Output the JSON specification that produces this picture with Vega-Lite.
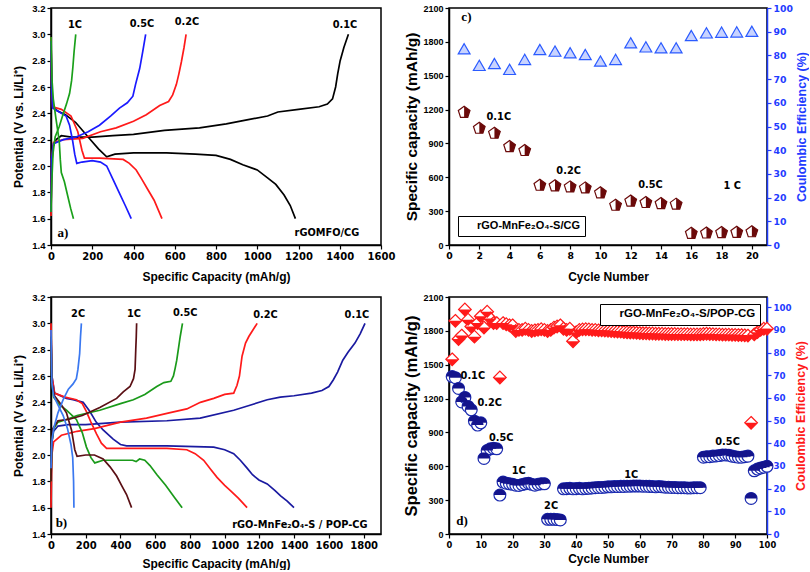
{
"$schema":"https://vega.github.io/schema/vega-lite/v6.json",
"background":"white",
"padding":{"left":12,"top":2,"right":0,"bottom":0},
"bounds":"flush",
"columns":2,
"spacing":{"row":52,"column":68},
"resolve":{"scale":{"color":"independent","shape":"independent"},"legend":{"shape":"independent","color":"independent"}},
"datasets":{
"a":[
{"r":"0.1C","s":"d","x":0,"y":2.98},{"r":"0.1C","s":"d","x":3,"y":2.6},{"r":"0.1C","s":"d","x":8,"y":2.45},{"r":"0.1C","s":"d","x":30,"y":2.42},{"r":"0.1C","s":"d","x":70,"y":2.39},{"r":"0.1C","s":"d","x":120,"y":2.33},{"r":"0.1C","s":"d","x":180,"y":2.22},{"r":"0.1C","s":"d","x":230,"y":2.13},{"r":"0.1C","s":"d","x":270,"y":2.07},{"r":"0.1C","s":"d","x":310,"y":2.09},{"r":"0.1C","s":"d","x":400,"y":2.1},{"r":"0.1C","s":"d","x":560,"y":2.1},{"r":"0.1C","s":"d","x":700,"y":2.09},{"r":"0.1C","s":"d","x":800,"y":2.08},{"r":"0.1C","s":"d","x":870,"y":2.05},{"r":"0.1C","s":"d","x":930,"y":2.01},{"r":"0.1C","s":"d","x":1000,"y":1.97},{"r":"0.1C","s":"d","x":1050,"y":1.91},{"r":"0.1C","s":"d","x":1090,"y":1.86},{"r":"0.1C","s":"d","x":1130,"y":1.78},{"r":"0.1C","s":"d","x":1160,"y":1.7},{"r":"0.1C","s":"d","x":1185,"y":1.6},
{"r":"0.1C","s":"c","x":0,"y":1.62},{"r":"0.1C","s":"c","x":3,"y":2.0},{"r":"0.1C","s":"c","x":10,"y":2.15},{"r":"0.1C","s":"c","x":25,"y":2.2},{"r":"0.1C","s":"c","x":50,"y":2.23},{"r":"0.1C","s":"c","x":100,"y":2.22},{"r":"0.1C","s":"c","x":200,"y":2.22},{"r":"0.1C","s":"c","x":300,"y":2.23},{"r":"0.1C","s":"c","x":400,"y":2.24},{"r":"0.1C","s":"c","x":550,"y":2.27},{"r":"0.1C","s":"c","x":720,"y":2.29},{"r":"0.1C","s":"c","x":850,"y":2.32},{"r":"0.1C","s":"c","x":950,"y":2.35},{"r":"0.1C","s":"c","x":1050,"y":2.38},{"r":"0.1C","s":"c","x":1100,"y":2.41},{"r":"0.1C","s":"c","x":1200,"y":2.43},{"r":"0.1C","s":"c","x":1300,"y":2.45},{"r":"0.1C","s":"c","x":1340,"y":2.47},{"r":"0.1C","s":"c","x":1365,"y":2.51},{"r":"0.1C","s":"c","x":1380,"y":2.6},{"r":"0.1C","s":"c","x":1390,"y":2.7},{"r":"0.1C","s":"c","x":1402,"y":2.8},{"r":"0.1C","s":"c","x":1420,"y":2.9},{"r":"0.1C","s":"c","x":1442,"y":3.0},
{"r":"0.2C","s":"d","x":0,"y":2.98},{"r":"0.2C","s":"d","x":3,"y":2.6},{"r":"0.2C","s":"d","x":8,"y":2.45},{"r":"0.2C","s":"d","x":50,"y":2.43},{"r":"0.2C","s":"d","x":97,"y":2.38},{"r":"0.2C","s":"d","x":130,"y":2.26},{"r":"0.2C","s":"d","x":150,"y":2.12},{"r":"0.2C","s":"d","x":162,"y":2.06},{"r":"0.2C","s":"d","x":235,"y":2.06},{"r":"0.2C","s":"d","x":350,"y":2.05},{"r":"0.2C","s":"d","x":380,"y":2.02},{"r":"0.2C","s":"d","x":413,"y":1.97},{"r":"0.2C","s":"d","x":440,"y":1.9},{"r":"0.2C","s":"d","x":470,"y":1.82},{"r":"0.2C","s":"d","x":500,"y":1.74},{"r":"0.2C","s":"d","x":538,"y":1.6},
{"r":"0.2C","s":"c","x":0,"y":1.62},{"r":"0.2C","s":"c","x":3,"y":2.05},{"r":"0.2C","s":"c","x":12,"y":2.18},{"r":"0.2C","s":"c","x":60,"y":2.2},{"r":"0.2C","s":"c","x":154,"y":2.21},{"r":"0.2C","s":"c","x":240,"y":2.26},{"r":"0.2C","s":"c","x":316,"y":2.29},{"r":"0.2C","s":"c","x":400,"y":2.34},{"r":"0.2C","s":"c","x":462,"y":2.39},{"r":"0.2C","s":"c","x":527,"y":2.46},{"r":"0.2C","s":"c","x":570,"y":2.49},{"r":"0.2C","s":"c","x":590,"y":2.54},{"r":"0.2C","s":"c","x":608,"y":2.62},{"r":"0.2C","s":"c","x":620,"y":2.7},{"r":"0.2C","s":"c","x":632,"y":2.79},{"r":"0.2C","s":"c","x":645,"y":2.9},{"r":"0.2C","s":"c","x":655,"y":3.0},
{"r":"0.5C","s":"d","x":0,"y":2.95},{"r":"0.5C","s":"d","x":3,"y":2.6},{"r":"0.5C","s":"d","x":8,"y":2.44},{"r":"0.5C","s":"d","x":40,"y":2.41},{"r":"0.5C","s":"d","x":73,"y":2.38},{"r":"0.5C","s":"d","x":90,"y":2.31},{"r":"0.5C","s":"d","x":105,"y":2.19},{"r":"0.5C","s":"d","x":115,"y":2.09},{"r":"0.5C","s":"d","x":125,"y":2.02},{"r":"0.5C","s":"d","x":150,"y":2.03},{"r":"0.5C","s":"d","x":200,"y":2.04},{"r":"0.5C","s":"d","x":240,"y":2.03},{"r":"0.5C","s":"d","x":270,"y":2.0},{"r":"0.5C","s":"d","x":300,"y":1.9},{"r":"0.5C","s":"d","x":330,"y":1.8},{"r":"0.5C","s":"d","x":360,"y":1.7},{"r":"0.5C","s":"d","x":389,"y":1.6},
{"r":"0.5C","s":"c","x":0,"y":1.65},{"r":"0.5C","s":"c","x":3,"y":2.05},{"r":"0.5C","s":"c","x":12,"y":2.17},{"r":"0.5C","s":"c","x":60,"y":2.2},{"r":"0.5C","s":"c","x":122,"y":2.22},{"r":"0.5C","s":"c","x":180,"y":2.26},{"r":"0.5C","s":"c","x":235,"y":2.31},{"r":"0.5C","s":"c","x":290,"y":2.38},{"r":"0.5C","s":"c","x":332,"y":2.44},{"r":"0.5C","s":"c","x":370,"y":2.48},{"r":"0.5C","s":"c","x":397,"y":2.53},{"r":"0.5C","s":"c","x":410,"y":2.62},{"r":"0.5C","s":"c","x":430,"y":2.74},{"r":"0.5C","s":"c","x":445,"y":2.87},{"r":"0.5C","s":"c","x":459,"y":3.0},
{"r":"1C","s":"d","x":0,"y":2.98},{"r":"1C","s":"d","x":5,"y":2.65},{"r":"1C","s":"d","x":11,"y":2.51},{"r":"1C","s":"d","x":24,"y":2.36},{"r":"1C","s":"d","x":40,"y":2.19},{"r":"1C","s":"d","x":45,"y":2.05},{"r":"1C","s":"d","x":50,"y":1.95},{"r":"1C","s":"d","x":65,"y":1.88},{"r":"1C","s":"d","x":80,"y":1.78},{"r":"1C","s":"d","x":95,"y":1.68},{"r":"1C","s":"d","x":109,"y":1.6},
{"r":"1C","s":"c","x":0,"y":1.65},{"r":"1C","s":"c","x":3,"y":1.85},{"r":"1C","s":"c","x":10,"y":2.1},{"r":"1C","s":"c","x":20,"y":2.22},{"r":"1C","s":"c","x":40,"y":2.3},{"r":"1C","s":"c","x":60,"y":2.4},{"r":"1C","s":"c","x":75,"y":2.47},{"r":"1C","s":"c","x":90,"y":2.55},{"r":"1C","s":"c","x":100,"y":2.65},{"r":"1C","s":"c","x":106,"y":2.75},{"r":"1C","s":"c","x":112,"y":2.87},{"r":"1C","s":"c","x":120,"y":3.0}
],
"b":[
{"r":"0.1C","s":"d","x":0,"y":2.95},{"r":"0.1C","s":"d","x":5,"y":2.6},{"r":"0.1C","s":"d","x":21,"y":2.47},{"r":"0.1C","s":"d","x":89,"y":2.43},{"r":"0.1C","s":"d","x":127,"y":2.42},{"r":"0.1C","s":"d","x":185,"y":2.4},{"r":"0.1C","s":"d","x":224,"y":2.33},{"r":"0.1C","s":"d","x":260,"y":2.25},{"r":"0.1C","s":"d","x":300,"y":2.19},{"r":"0.1C","s":"d","x":358,"y":2.12},{"r":"0.1C","s":"d","x":400,"y":2.08},{"r":"0.1C","s":"d","x":435,"y":2.07},{"r":"0.1C","s":"d","x":667,"y":2.07},{"r":"0.1C","s":"d","x":937,"y":2.06},{"r":"0.1C","s":"d","x":1000,"y":2.04},{"r":"0.1C","s":"d","x":1052,"y":2.01},{"r":"0.1C","s":"d","x":1090,"y":1.96},{"r":"0.1C","s":"d","x":1129,"y":1.9},{"r":"0.1C","s":"d","x":1160,"y":1.85},{"r":"0.1C","s":"d","x":1197,"y":1.81},{"r":"0.1C","s":"d","x":1245,"y":1.78},{"r":"0.1C","s":"d","x":1290,"y":1.73},{"r":"0.1C","s":"d","x":1322,"y":1.69},{"r":"0.1C","s":"d","x":1360,"y":1.65},{"r":"0.1C","s":"d","x":1399,"y":1.6},
{"r":"0.1C","s":"c","x":0,"y":1.9},{"r":"0.1C","s":"c","x":5,"y":2.1},{"r":"0.1C","s":"c","x":15,"y":2.18},{"r":"0.1C","s":"c","x":40,"y":2.22},{"r":"0.1C","s":"c","x":100,"y":2.23},{"r":"0.1C","s":"c","x":200,"y":2.23},{"r":"0.1C","s":"c","x":400,"y":2.25},{"r":"0.1C","s":"c","x":667,"y":2.26},{"r":"0.1C","s":"c","x":859,"y":2.28},{"r":"0.1C","s":"c","x":1052,"y":2.34},{"r":"0.1C","s":"c","x":1150,"y":2.38},{"r":"0.1C","s":"c","x":1245,"y":2.42},{"r":"0.1C","s":"c","x":1320,"y":2.44},{"r":"0.1C","s":"c","x":1399,"y":2.45},{"r":"0.1C","s":"c","x":1500,"y":2.47},{"r":"0.1C","s":"c","x":1560,"y":2.49},{"r":"0.1C","s":"c","x":1600,"y":2.52},{"r":"0.1C","s":"c","x":1625,"y":2.57},{"r":"0.1C","s":"c","x":1650,"y":2.63},{"r":"0.1C","s":"c","x":1680,"y":2.72},{"r":"0.1C","s":"c","x":1710,"y":2.78},{"r":"0.1C","s":"c","x":1750,"y":2.85},{"r":"0.1C","s":"c","x":1780,"y":2.92},{"r":"0.1C","s":"c","x":1808,"y":3.0},
{"r":"0.2C","s":"d","x":0,"y":3.0},{"r":"0.2C","s":"d","x":5,"y":2.6},{"r":"0.2C","s":"d","x":20,"y":2.47},{"r":"0.2C","s":"d","x":80,"y":2.44},{"r":"0.2C","s":"d","x":146,"y":2.42},{"r":"0.2C","s":"d","x":180,"y":2.39},{"r":"0.2C","s":"d","x":204,"y":2.33},{"r":"0.2C","s":"d","x":230,"y":2.25},{"r":"0.2C","s":"d","x":262,"y":2.16},{"r":"0.2C","s":"d","x":290,"y":2.09},{"r":"0.2C","s":"d","x":320,"y":2.05},{"r":"0.2C","s":"d","x":500,"y":2.05},{"r":"0.2C","s":"d","x":667,"y":2.05},{"r":"0.2C","s":"d","x":782,"y":2.04},{"r":"0.2C","s":"d","x":830,"y":2.01},{"r":"0.2C","s":"d","x":879,"y":1.96},{"r":"0.2C","s":"d","x":920,"y":1.89},{"r":"0.2C","s":"d","x":956,"y":1.83},{"r":"0.2C","s":"d","x":1000,"y":1.77},{"r":"0.2C","s":"d","x":1033,"y":1.73},{"r":"0.2C","s":"d","x":1080,"y":1.67},{"r":"0.2C","s":"d","x":1129,"y":1.6},
{"r":"0.2C","s":"c","x":0,"y":1.6},{"r":"0.2C","s":"c","x":5,"y":2.0},{"r":"0.2C","s":"c","x":15,"y":2.1},{"r":"0.2C","s":"c","x":60,"y":2.15},{"r":"0.2C","s":"c","x":150,"y":2.18},{"r":"0.2C","s":"c","x":250,"y":2.2},{"r":"0.2C","s":"c","x":400,"y":2.25},{"r":"0.2C","s":"c","x":550,"y":2.28},{"r":"0.2C","s":"c","x":680,"y":2.32},{"r":"0.2C","s":"c","x":782,"y":2.35},{"r":"0.2C","s":"c","x":860,"y":2.4},{"r":"0.2C","s":"c","x":937,"y":2.43},{"r":"0.2C","s":"c","x":1000,"y":2.46},{"r":"0.2C","s":"c","x":1052,"y":2.47},{"r":"0.2C","s":"c","x":1071,"y":2.53},{"r":"0.2C","s":"c","x":1085,"y":2.6},{"r":"0.2C","s":"c","x":1100,"y":2.75},{"r":"0.2C","s":"c","x":1120,"y":2.85},{"r":"0.2C","s":"c","x":1139,"y":2.9},{"r":"0.2C","s":"c","x":1187,"y":3.0},
{"r":"0.5C","s":"d","x":0,"y":2.9},{"r":"0.5C","s":"d","x":5,"y":2.55},{"r":"0.5C","s":"d","x":15,"y":2.44},{"r":"0.5C","s":"d","x":50,"y":2.38},{"r":"0.5C","s":"d","x":89,"y":2.34},{"r":"0.5C","s":"d","x":146,"y":2.27},{"r":"0.5C","s":"d","x":180,"y":2.17},{"r":"0.5C","s":"d","x":204,"y":2.06},{"r":"0.5C","s":"d","x":230,"y":1.98},{"r":"0.5C","s":"d","x":252,"y":1.94},{"r":"0.5C","s":"d","x":300,"y":1.96},{"r":"0.5C","s":"d","x":400,"y":1.96},{"r":"0.5C","s":"d","x":470,"y":1.96},{"r":"0.5C","s":"d","x":490,"y":1.95},{"r":"0.5C","s":"d","x":510,"y":1.97},{"r":"0.5C","s":"d","x":540,"y":1.96},{"r":"0.5C","s":"d","x":570,"y":1.92},{"r":"0.5C","s":"d","x":610,"y":1.85},{"r":"0.5C","s":"d","x":660,"y":1.77},{"r":"0.5C","s":"d","x":710,"y":1.68},{"r":"0.5C","s":"d","x":755,"y":1.6},
{"r":"0.5C","s":"c","x":0,"y":1.8},{"r":"0.5C","s":"c","x":5,"y":2.1},{"r":"0.5C","s":"c","x":15,"y":2.2},{"r":"0.5C","s":"c","x":40,"y":2.25},{"r":"0.5C","s":"c","x":89,"y":2.27},{"r":"0.5C","s":"c","x":150,"y":2.3},{"r":"0.5C","s":"c","x":281,"y":2.34},{"r":"0.5C","s":"c","x":400,"y":2.39},{"r":"0.5C","s":"c","x":474,"y":2.42},{"r":"0.5C","s":"c","x":540,"y":2.46},{"r":"0.5C","s":"c","x":609,"y":2.52},{"r":"0.5C","s":"c","x":650,"y":2.55},{"r":"0.5C","s":"c","x":690,"y":2.56},{"r":"0.5C","s":"c","x":705,"y":2.6},{"r":"0.5C","s":"c","x":715,"y":2.66},{"r":"0.5C","s":"c","x":724,"y":2.72},{"r":"0.5C","s":"c","x":735,"y":2.82},{"r":"0.5C","s":"c","x":744,"y":2.9},{"r":"0.5C","s":"c","x":757,"y":3.0},
{"r":"1C","s":"d","x":0,"y":2.9},{"r":"1C","s":"d","x":5,"y":2.55},{"r":"1C","s":"d","x":20,"y":2.45},{"r":"1C","s":"d","x":60,"y":2.38},{"r":"1C","s":"d","x":89,"y":2.32},{"r":"1C","s":"d","x":118,"y":2.19},{"r":"1C","s":"d","x":137,"y":2.04},{"r":"1C","s":"d","x":150,"y":1.99},{"r":"1C","s":"d","x":200,"y":2.0},{"r":"1C","s":"d","x":250,"y":2.0},{"r":"1C","s":"d","x":300,"y":1.97},{"r":"1C","s":"d","x":340,"y":1.91},{"r":"1C","s":"d","x":378,"y":1.84},{"r":"1C","s":"d","x":410,"y":1.76},{"r":"1C","s":"d","x":435,"y":1.7},{"r":"1C","s":"d","x":464,"y":1.6},
{"r":"1C","s":"c","x":0,"y":1.8},{"r":"1C","s":"c","x":3,"y":2.0},{"r":"1C","s":"c","x":10,"y":2.2},{"r":"1C","s":"c","x":40,"y":2.26},{"r":"1C","s":"c","x":100,"y":2.27},{"r":"1C","s":"c","x":180,"y":2.3},{"r":"1C","s":"c","x":281,"y":2.36},{"r":"1C","s":"c","x":378,"y":2.43},{"r":"1C","s":"c","x":416,"y":2.48},{"r":"1C","s":"c","x":455,"y":2.52},{"r":"1C","s":"c","x":475,"y":2.58},{"r":"1C","s":"c","x":484,"y":2.65},{"r":"1C","s":"c","x":488,"y":2.8},{"r":"1C","s":"c","x":491,"y":2.9},{"r":"1C","s":"c","x":493,"y":3.0},
{"r":"2C","s":"d","x":0,"y":2.95},{"r":"2C","s":"d","x":5,"y":2.55},{"r":"2C","s":"d","x":15,"y":2.45},{"r":"2C","s":"d","x":40,"y":2.38},{"r":"2C","s":"d","x":70,"y":2.3},{"r":"2C","s":"d","x":95,"y":2.2},{"r":"2C","s":"d","x":115,"y":2.08},{"r":"2C","s":"d","x":125,"y":1.98},{"r":"2C","s":"d","x":130,"y":1.8},{"r":"2C","s":"d","x":132,"y":1.6},
{"r":"2C","s":"c","x":0,"y":1.9},{"r":"2C","s":"c","x":5,"y":2.1},{"r":"2C","s":"c","x":15,"y":2.2},{"r":"2C","s":"c","x":40,"y":2.32},{"r":"2C","s":"c","x":70,"y":2.42},{"r":"2C","s":"c","x":100,"y":2.5},{"r":"2C","s":"c","x":127,"y":2.54},{"r":"2C","s":"c","x":146,"y":2.58},{"r":"2C","s":"c","x":155,"y":2.65},{"r":"2C","s":"c","x":165,"y":2.77},{"r":"2C","s":"c","x":170,"y":2.9},{"r":"2C","s":"c","x":175,"y":3.0}
],
"c":[
{"x":1,"cap":1175,"ce":82.8},{"x":2,"cap":1034,"ce":75.8},{"x":3,"cap":990,"ce":76.6},{"x":4,"cap":872,"ce":74.1},{"x":5,"cap":837,"ce":78.3},{"x":6,"cap":529,"ce":82.5},{"x":7,"cap":523,"ce":81.8},{"x":8,"cap":514,"ce":81.1},{"x":9,"cap":505,"ce":80.4},{"x":10,"cap":461,"ce":77.6},{"x":11,"cap":352,"ce":78.3},{"x":12,"cap":388,"ce":85.3},{"x":13,"cap":376,"ce":83.6},{"x":14,"cap":367,"ce":83.2},{"x":15,"cap":361,"ce":83.2},{"x":16,"cap":103,"ce":88.4},{"x":17,"cap":106,"ce":89.5},{"x":18,"cap":109,"ce":89.8},{"x":19,"cap":112,"ce":89.9},{"x":20,"cap":117,"ce":90.2}
],
"d":[
{"x":1,"cap":1395,"ce":77},{"x":2,"cap":1385,"ce":94},{"x":3,"cap":1290,"ce":86},{"x":4,"cap":1170,"ce":87.5},{"x":5,"cap":1210,"ce":99},{"x":6,"cap":1130,"ce":94.5},{"x":7,"cap":1100,"ce":91.5},{"x":8,"cap":1000,"ce":87},{"x":9,"cap":965,"ce":93},{"x":10,"cap":985,"ce":96},
{"x":11,"cap":670,"ce":91},{"x":12,"cap":740,"ce":98},{"x":13,"cap":755,"ce":95},{"x":14,"cap":760,"ce":93},{"x":15,"cap":755,"ce":93},{"x":16,"cap":345,"ce":69},{"x":17,"cap":460,"ce":93},{"x":18,"cap":450,"ce":92.5},{"x":19,"cap":445,"ce":92},{"x":20,"cap":440,"ce":92},
{"x":21,"cap":432,"ce":89.5},{"x":22,"cap":430,"ce":90},{"x":23,"cap":438,"ce":90},{"x":24,"cap":445,"ce":90.5},{"x":25,"cap":450,"ce":90},{"x":26,"cap":440,"ce":89.5},{"x":27,"cap":432,"ce":89.8},{"x":28,"cap":440,"ce":90},{"x":29,"cap":445,"ce":90.3},{"x":30,"cap":445,"ce":90},
{"x":31,"cap":130,"ce":89.5},{"x":32,"cap":130,"ce":90},{"x":33,"cap":130,"ce":91},{"x":34,"cap":128,"ce":91.5},{"x":35,"cap":125,"ce":92},{"x":36,"cap":400,"ce":90.5},{"x":37,"cap":402,"ce":90},{"x":38,"cap":405,"ce":90.5},{"x":39,"cap":400,"ce":85},{"x":40,"cap":402,"ce":89},
{"x":41,"cap":405,"ce":90},{"x":42,"cap":400,"ce":90.2},{"x":43,"cap":403,"ce":90.3},{"x":44,"cap":405,"ce":90.2},{"x":45,"cap":408,"ce":90},{"x":46,"cap":410,"ce":90},{"x":47,"cap":412,"ce":89.8},{"x":48,"cap":412,"ce":89.8},{"x":49,"cap":415,"ce":89.7},{"x":50,"cap":418,"ce":89.6},
{"x":51,"cap":418,"ce":89.5},{"x":52,"cap":420,"ce":89.4},{"x":53,"cap":420,"ce":89.3},{"x":54,"cap":422,"ce":89.2},{"x":55,"cap":422,"ce":89},{"x":56,"cap":423,"ce":88.9},{"x":57,"cap":424,"ce":88.8},{"x":58,"cap":425,"ce":88.8},{"x":59,"cap":425,"ce":88.7},{"x":60,"cap":425,"ce":88.6},
{"x":61,"cap":424,"ce":88.5},{"x":62,"cap":423,"ce":88.5},{"x":63,"cap":422,"ce":88.4},{"x":64,"cap":420,"ce":88.4},{"x":65,"cap":418,"ce":88.3},{"x":66,"cap":420,"ce":88.3},{"x":67,"cap":418,"ce":88.3},{"x":68,"cap":415,"ce":88.2},{"x":69,"cap":415,"ce":88.2},{"x":70,"cap":412,"ce":88.2},
{"x":71,"cap":412,"ce":88.2},{"x":72,"cap":410,"ce":88.1},{"x":73,"cap":410,"ce":88.1},{"x":74,"cap":410,"ce":88.1},{"x":75,"cap":408,"ce":88.1},{"x":76,"cap":408,"ce":88},{"x":77,"cap":410,"ce":88},{"x":78,"cap":410,"ce":88},{"x":79,"cap":410,"ce":88},{"x":80,"cap":680,"ce":88.2},
{"x":81,"cap":685,"ce":88.3},{"x":82,"cap":685,"ce":88.2},{"x":83,"cap":690,"ce":88.1},{"x":84,"cap":692,"ce":88},{"x":85,"cap":695,"ce":88},{"x":86,"cap":700,"ce":87.9},{"x":87,"cap":700,"ce":87.9},{"x":88,"cap":698,"ce":87.9},{"x":89,"cap":690,"ce":87.8},{"x":90,"cap":685,"ce":87.8},
{"x":91,"cap":680,"ce":87.7},{"x":92,"cap":680,"ce":87.7},{"x":93,"cap":685,"ce":87.6},{"x":94,"cap":690,"ce":87.5},{"x":95,"cap":315,"ce":49},{"x":96,"cap":560,"ce":88},{"x":97,"cap":575,"ce":89},{"x":98,"cap":585,"ce":90},{"x":99,"cap":592,"ce":90.5},{"x":100,"cap":600,"ce":90.5}
]
},
"concat":[
{
 "width":330,"height":237,
 "encoding":{
  "x":{"field":"x","type":"quantitative","scale":{"domain":[0,1600],"nice":false,"zero":false},"axis":{"values":[0,200,400,600,800,1000,1200,1400,1600],"format":"d","title":"Specific Capacity (mAh/g)","titlePadding":10,"labelFontSize":10}},
  "y":{"field":"y","type":"quantitative","scale":{"domain":[1.4,3.2],"nice":false,"zero":false},"axis":{"values":[1.4,1.6,1.8,2.0,2.2,2.4,2.6,2.8,3.0,3.2],"format":".1f","title":"Potential (V vs. Li/Li⁺)","titlePadding":6,"labelFont":"Liberation Sans","labelFontSize":9.5}}
 },
 "layer":[
  {"data":{"name":"a"},"mark":{"type":"line","strokeWidth":1.7},"encoding":{"color":{"field":"r","type":"nominal","scale":{"domain":["0.1C","0.2C","0.5C","1C"],"range":["#000000","#ff1a1a","#1a1aff","#1aa01a"]},"legend":null},"detail":{"field":"s"},"order":{"value":null}}},
  {"data":{"values":[{"x":116,"y":3.07,"t":"1C"},{"x":441,"y":3.08,"t":"0.5C"},{"x":659,"y":3.09,"t":"0.2C"},{"x":1425,"y":3.07,"t":"0.1C"},{"x":1338,"y":1.49,"t":"rGOMFO/CG"}]},"mark":{"type":"text"},"encoding":{"text":{"field":"t"}}},
  {"data":{"values":[{"x":58,"y":1.49,"t":"a)"}]},"mark":{"type":"text","font":"Liberation Serif","fontSize":13},"encoding":{"text":{"field":"t"}}}
 ]
},
{
 "width":318,"height":237,
 "encoding":{
  "x":{"field":"x","type":"quantitative","scale":{"domain":[0,21],"nice":false,"zero":false},"axis":{"values":[0,2,4,6,8,10,12,14,16,18,20],"title":"Cycle Number","titlePadding":11,"labelFontSize":9.3}}
 },
 "layer":[
  {
   "encoding":{"y":{"field":"cap","type":"quantitative","scale":{"domain":[0,2100],"nice":false,"zero":false},"axis":{"values":[0,300,600,900,1200,1500,1800,2100],"format":"d","title":"Specific capacity (mAh/g)","titleFontSize":15.5,"titlePadding":3,"labelFont":"Liberation Sans","labelFontSize":9}}},
   "layer":[
    {"data":{"name":"c"},"mark":{"type":"point","filled":true,"fill":"white","stroke":"#6b0a0a","strokeWidth":1.2,"size":150,"opacity":1},
     "encoding":{"shape":{"datum":"rGO-MnFe₂O₄-S/CG","type":"nominal","scale":{"range":["M0,-1L0.951,-0.309L0.588,0.809L-0.588,0.809L-0.951,-0.309Z"]},
      "legend":{"orient":"bottom-left","offset":9,"title":null,"strokeColor":"black","fillColor":"white","padding":4,"labelFont":"Liberation Sans","labelFontSize":11,"labelFontWeight":"bold","symbolFillColor":"#6b0a0a","symbolStrokeColor":"#6b0a0a","symbolSize":60}}}},
    {"data":{"name":"c"},"mark":{"type":"point","filled":true,"fill":"#6b0a0a","strokeWidth":0,"size":150,"opacity":1,"shape":"M0,-1L0.951,-0.309L0.588,0.809L0,0.809Z"}},
    {"data":{"values":[{"x":3.29,"cap":1137,"t":"0.1C"},{"x":7.9,"cap":655,"t":"0.2C"},{"x":13.3,"cap":529,"t":"0.5C"},{"x":18.7,"cap":520,"t":"1 C"}]},"mark":{"type":"text"},"encoding":{"text":{"field":"t"}}},
    {"data":{"values":[{"x":1.15,"cap":2021,"t":"c)"}]},"mark":{"type":"text","font":"Liberation Serif","fontSize":13},"encoding":{"text":{"field":"t"}}}
   ]
  },
  {
   "encoding":{"y":{"field":"ce","type":"quantitative","scale":{"domain":[0,100],"nice":false,"zero":false},"axis":{"orient":"right","values":[0,10,20,30,40,50,60,70,80,90,100],"title":"Coulombic Efficiency (%)","titleAngle":270,"titleBaseline":"top","titlePadding":3,"titleFontSize":12.5,"titleColor":"#1f3cff","labelColor":"#1f3cff","domainColor":"#1f3cff","tickColor":"#1f3cff","labelFontSize":9.3}}},
   "layer":[
    {"data":{"name":"c"},"mark":{"type":"point","shape":"triangle-up","filled":true,"fill":"#c8d3ff","stroke":"#2b5bff","strokeWidth":1.2,"size":140,"opacity":1}}
   ]
  }
 ],
 "resolve":{"scale":{"y":"independent"}}
},
{
 "width":330,"height":237,
 "encoding":{
  "x":{"field":"x","type":"quantitative","scale":{"domain":[0,1900],"nice":false,"zero":false},"axis":{"values":[0,200,400,600,800,1000,1200,1400,1600,1800],"format":"d","title":"Specific Capacity (mAh/g)","titlePadding":8,"labelFontSize":10}},
  "y":{"field":"y","type":"quantitative","scale":{"domain":[1.4,3.2],"nice":false,"zero":false},"axis":{"values":[1.4,1.6,1.8,2.0,2.2,2.4,2.6,2.8,3.0,3.2],"format":".1f","title":"Potential (V vs. Li/Li⁺)","titlePadding":6,"labelFont":"Liberation Sans","labelFontSize":9.5}}
 },
 "layer":[
  {"data":{"name":"b"},"mark":{"type":"line","strokeWidth":1.7},"encoding":{"color":{"field":"r","type":"nominal","scale":{"domain":["0.1C","0.2C","0.5C","1C","2C"],"range":["#1a1aa0","#ff1a1a","#1a9a1a","#5a0f14","#3a78f0"]},"legend":null},"detail":{"field":"s"},"order":{"value":null}}},
  {"data":{"values":[{"x":156,"y":3.07,"t":"2C"},{"x":478,"y":3.07,"t":"1C"},{"x":773,"y":3.08,"t":"0.5C"},{"x":1235,"y":3.06,"t":"0.2C"},{"x":1761,"y":3.06,"t":"0.1C"},{"x":1433,"y":1.47,"t":"rGO-MnFe₂O₄-S / POP-CG"}]},"mark":{"type":"text"},"encoding":{"text":{"field":"t"}}},
  {"data":{"values":[{"x":60,"y":1.48,"t":"b)"}]},"mark":{"type":"text","font":"Liberation Serif","fontSize":13},"encoding":{"text":{"field":"t"}}}
 ]
},
{
 "width":318,"height":237,
 "encoding":{
  "x":{"field":"x","type":"quantitative","scale":{"domain":[0,100],"nice":false,"zero":false},"axis":{"values":[0,10,20,30,40,50,60,70,80,90,100],"title":"Cycle Number","titlePadding":5,"labelFontSize":8.3}}
 },
 "layer":[
  {
   "encoding":{"y":{"field":"cap","type":"quantitative","scale":{"domain":[0,2100],"nice":false,"zero":false},"axis":{"values":[0,300,600,900,1200,1500,1800,2100],"format":"d","title":"Specific capacity (mAh/g)","titleFontSize":16.5,"titlePadding":3,"labelFont":"Liberation Sans","labelFontSize":9}}},
   "layer":[
    {"data":{"name":"d"},"mark":{"type":"point","filled":true,"fill":"white","stroke":"#1a2ab0","strokeWidth":1.2,"size":140,"opacity":1},
     "encoding":{"shape":{"datum":"rGO-MnFe₂O₄-S/POP-CG","type":"nominal","scale":{"range":["circle"]},
      "legend":{"orient":"top-right","offset":7,"title":null,"strokeColor":"black","fillColor":"white","padding":4,"labelFont":"Liberation Sans","labelFontSize":11.5,"labelFontWeight":"bold","symbolFillColor":"#14148c","symbolStrokeColor":"#1a2ab0","symbolSize":70}}}},
    {"data":{"name":"d"},"mark":{"type":"point","filled":true,"fill":"#14148c","strokeWidth":0,"size":140,"opacity":1,"shape":"M-1,0A1,1,0,0,1,1,0Z"}},
    {"data":{"values":[{"x":7.5,"cap":1396,"t":"0.1C"},{"x":12.8,"cap":1158,"t":"0.2C"},{"x":16.4,"cap":855,"t":"0.5C"},{"x":21.9,"cap":555,"t":"1C"},{"x":32.1,"cap":244,"t":"2C"},{"x":57.3,"cap":520,"t":"1C"},{"x":87.6,"cap":811,"t":"0.5C"}]},"mark":{"type":"text"},"encoding":{"text":{"field":"t"}}},
    {"data":{"values":[{"x":4.1,"cap":119,"t":"d)"}]},"mark":{"type":"text","font":"Liberation Serif","fontSize":13},"encoding":{"text":{"field":"t"}}}
   ]
  },
  {
   "encoding":{"y":{"field":"ce","type":"quantitative","scale":{"domain":[0,104.5],"nice":false,"zero":false},"axis":{"orient":"right","values":[0,10,20,30,40,50,60,70,80,90,100],"title":"Coulombic Efficiency (%)","titleAngle":270,"titleBaseline":"top","titlePadding":3,"titleFontSize":12.5,"titleColor":"#ff1a1a","labelColor":"#1f3cff","domainColor":"#1f3cff","tickColor":"#1f3cff","labelFontSize":8.7}}},
   "layer":[
    {"data":{"name":"d"},"mark":{"type":"point","shape":"M0,-1L1,0L0,1L-1,0Z","filled":true,"fill":"white","stroke":"#ff1a1a","strokeWidth":1.2,"size":160,"opacity":1}},
    {"data":{"name":"d"},"mark":{"type":"point","shape":"M-1,0L1,0L0,1Z","filled":true,"fill":"#ff1a1a","strokeWidth":0,"size":160,"opacity":1}}
   ]
  }
 ],
 "resolve":{"scale":{"y":"independent"}}
}
],
"config":{
 "view":{"stroke":"black","strokeWidth":1.5},
 "axis":{"grid":false,"domainColor":"black","domainWidth":1.5,"tickColor":"black","tickWidth":1.2,"tickSize":4,"labelFont":"DejaVu Sans","labelFontWeight":"bold","labelFontSize":9.6,"labelColor":"black","labelPadding":2,"titleFont":"Liberation Sans","titleFontWeight":"bold","titleFontSize":12,"titleColor":"black","labelOverlap":false,"labelFlush":false},
 "text":{"font":"DejaVu Sans","fontWeight":"bold","fontSize":9.8,"color":"black"}
}
}
